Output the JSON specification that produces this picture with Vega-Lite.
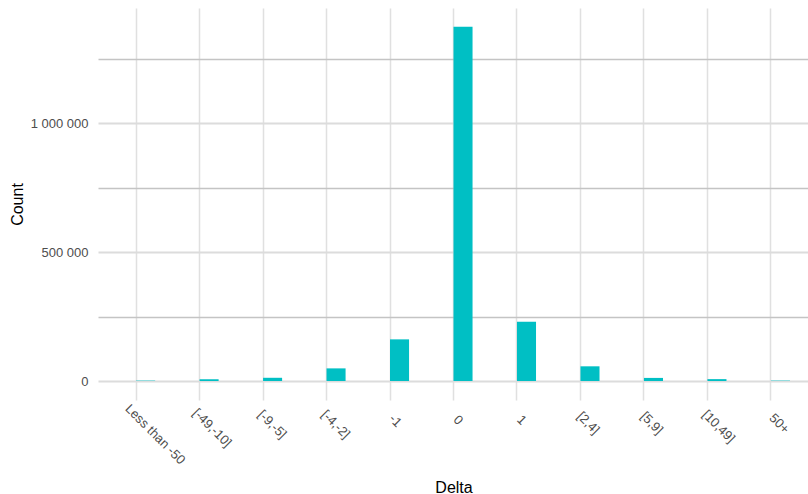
{
  "$schema": "https://vega.github.io/schema/vega-lite/v6.json",
  "width": 711,
  "height": 392,
  "autosize": {"type": "none"},
  "padding": {"left": 98, "top": 8, "right": 0, "bottom": 94},
  "background": "white",
  "config": {
    "view": {"stroke": null},
    "font": "Liberation Sans"
  },
  "data": {
    "values": [
      {"delta": "Less than  -50", "group": "B", "count": 1500},
      {"delta": "[-49,-10]", "group": "B", "count": 6800},
      {"delta": "[-9,-5]", "group": "B", "count": 12500},
      {"delta": "[-4,-2]", "group": "B", "count": 49000},
      {"delta": "-1", "group": "B", "count": 161600},
      {"delta": "0", "group": "B", "count": 1375000},
      {"delta": "1", "group": "B", "count": 230000},
      {"delta": "[2,4]", "group": "B", "count": 57000},
      {"delta": "[5,9]", "group": "B", "count": 12000},
      {"delta": "[10,49]", "group": "B", "count": 7300},
      {"delta": "50+", "group": "B", "count": 1500}
    ]
  },
  "mark": {"type": "bar", "color": "#00BFC4"},
  "encoding": {
    "x": {
      "field": "delta",
      "type": "nominal",
      "sort": null,
      "scale": {"paddingInner": 0.4, "paddingOuter": 0.3},
      "axis": {
        "title": "Delta",
        "titleFontSize": 16,
        "titleFontWeight": "normal",
        "titleColor": "#000000",
        "titleY": 92,
        "titleBaseline": "alphabetic",
        "labelAngle": 45,
        "labelAlign": "left",
        "labelBaseline": "alphabetic",
        "labelPadding": {"expr": "20.8 - 0.85 * length(datum.label)"},
        "labelOffset": {"expr": "0.2 - 0.85 * length(datum.label)"},
        "labelFontSize": 13,
        "labelColor": "#4d4d4d",
        "ticks": false,
        "domain": false,
        "grid": true,
        "gridColor": "#e0e0e0",
        "gridWidth": 1.5,
        "bandPosition": 0.5
      }
    },
    "xOffset": {
      "field": "group",
      "type": "nominal",
      "scale": {"domain": ["A", "B"], "paddingInner": 0, "paddingOuter": 0}
    },
    "y": {
      "field": "count",
      "type": "quantitative",
      "scale": {"domain": [-73700, 1447400], "nice": false, "zero": false},
      "axis": {
        "title": "Count",
        "titleFontSize": 16,
        "titleFontWeight": "normal",
        "titleColor": "#000000",
        "titleAngle": -90,
        "titleX": -76,
        "titleY": 196,
        "titleAlign": "center",
        "titleBaseline": "alphabetic",
        "values": [0, 250000, 500000, 750000, 1000000, 1250000],
        "labelExpr": "datum.value % 500000 === 0 ? replace(replace(format(datum.value, ',d'), ',', ' '), ',', ' ') : ''",
        "labelPadding": 10,
        "labelFontSize": 13,
        "labelColor": "#4d4d4d",
        "ticks": false,
        "domain": false,
        "grid": true,
        "gridColor": {"condition": {"test": "datum.value % 500000 === 0", "value": "#dcdcdc"}, "value": "#c4c4c4"},
        "gridWidth": {"condition": {"test": "datum.value % 500000 === 0", "value": 2}, "value": 1.5}
      }
    }
  }
}
